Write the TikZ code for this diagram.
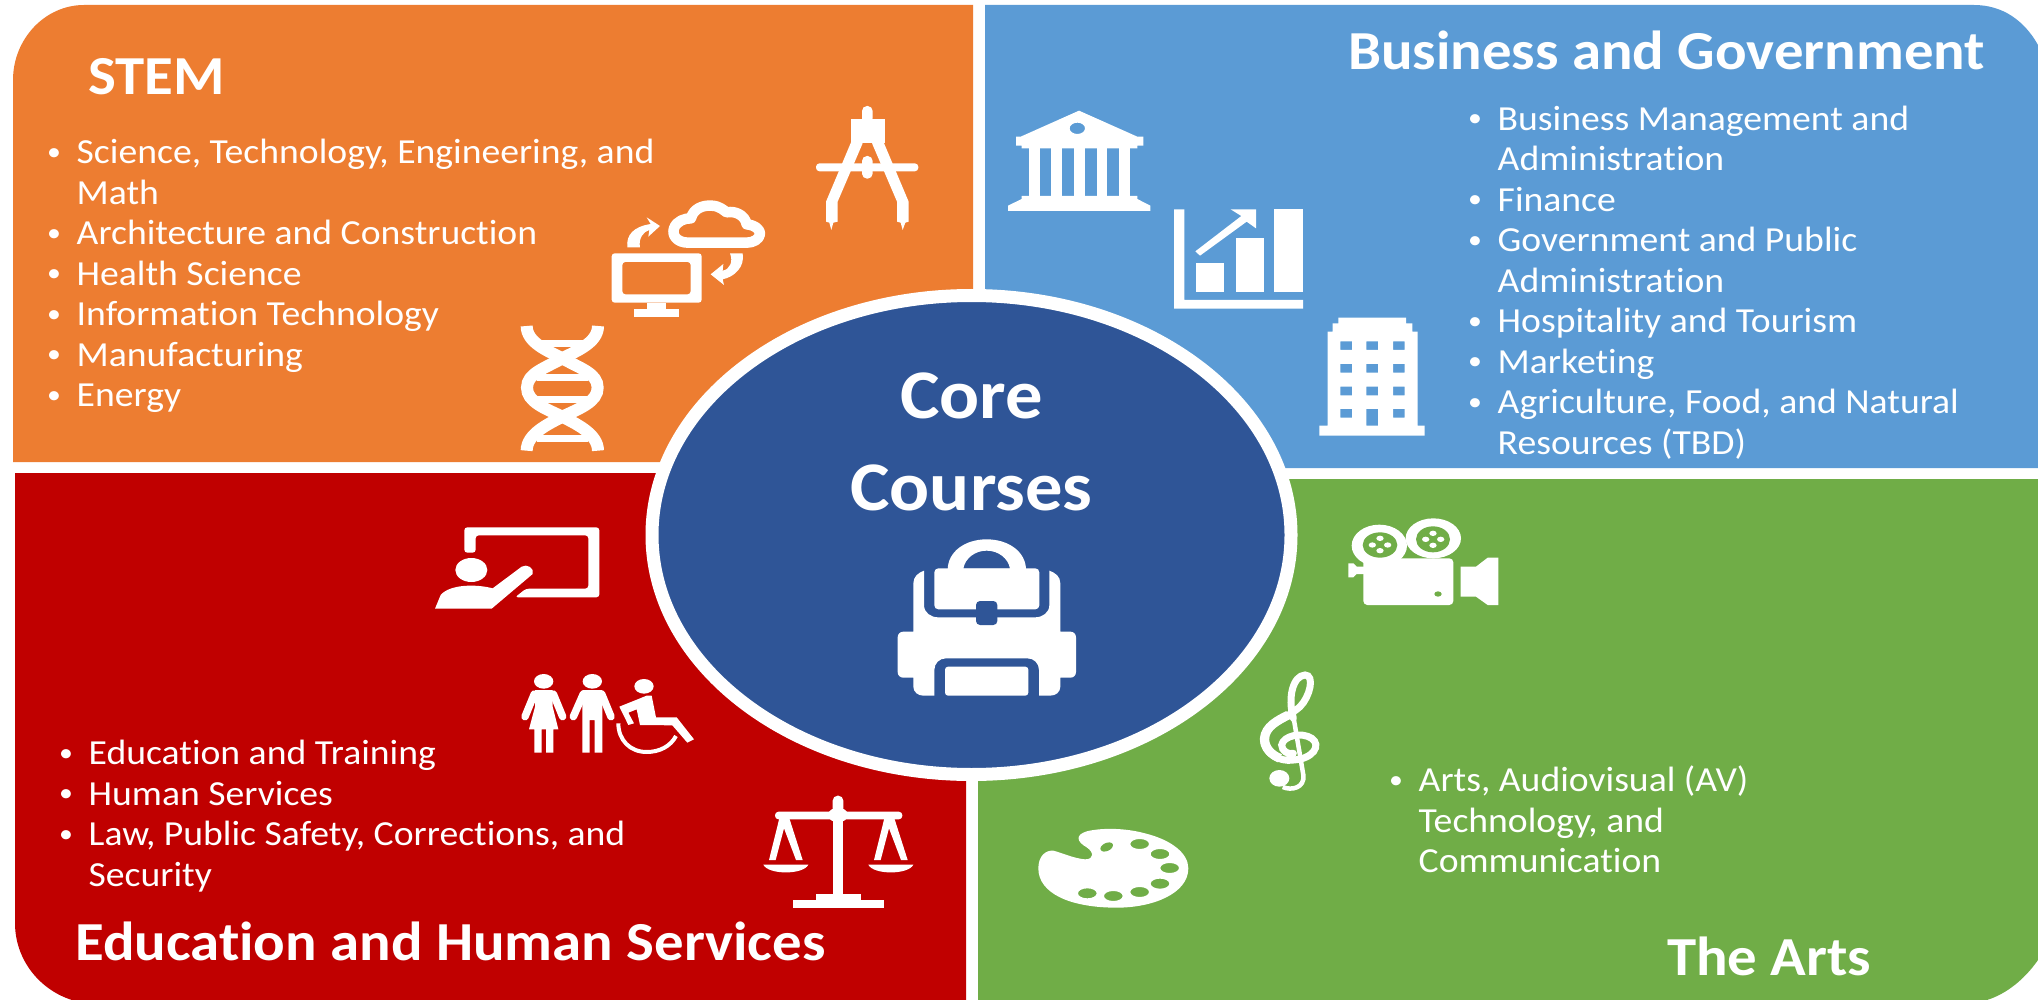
\documentclass[tikz,border=0pt]{standalone}
\usepackage{fontspec}
\setmainfont{Carlito}[FakeStretch=1.07,Ligatures=NoCommon]
\usetikzlibrary{shapes.geometric}
\definecolor{cOrange}{HTML}{ED7D31}
\definecolor{cBlue}{HTML}{5B9BD5}
\definecolor{cRed}{HTML}{C00000}
\definecolor{cGreen}{HTML}{70AD47}
\definecolor{cDark}{HTML}{2F5597}
\tikzset{
  listblock/.style={anchor=base west,inner sep=0pt,text=white,font=\fontsize{35.2}{40.5}\selectfont},
  titletext/.style={anchor=base west,inner sep=0pt,text=white,font=\fontsize{55}{60}\selectfont\bfseries},
  iconfill/.style={fill=white,draw=none},
  iconline/.style={draw=white,fill=none},
}
\newcommand{\bul}{\raisebox{3.5pt}{\fontsize{26}{26}\selectfont\textbullet}}
\begin{document}
\begin{tikzpicture}[x=1pt,y=-1pt]
\useasboundingbox (0,0) rectangle (2038,1000);
\fill[white] (0,0) rectangle (2038,1000);
% panels
\fill[cOrange] (13,462) -- (13,80) .. controls (13,39) and (45,5) .. (84,5) -- (973,5) -- (973,462) -- cycle;
\fill[cBlue] (985,5) -- (1974,5) .. controls (2002,5) and (2024,20) .. (2038,45) -- (2038,468) -- (985,468) -- cycle;
\fill[cRed] (15,473) -- (966,473) -- (966,1000) -- (72,1000) .. controls (40,990) and (15,960) .. (15,923) -- cycle;
\fill[cGreen] (978,479) -- (2038,479) -- (2038,960) .. controls (2024,980) and (2006,994) .. (1987,1000) -- (978,1000) -- cycle;
% centre
\node[ellipse,draw=white,line width=13pt,fill=cDark,minimum width=639pt,minimum height=479pt,inner sep=0pt] (core) at (971.5,535) {};
\node[anchor=base,inner sep=0pt,text=white,font=\fontsize{69.7}{92}\selectfont\bfseries] (coretext) at (971.5,418) {\begin{tabular}[t]{@{}c@{}}Core\\Courses\end{tabular}};
% titles
\node[titletext] (stemtitle) at (88,95) {STEM};
\node[titletext] (bustitle) at (1348,70) {Business and Government};
\node[titletext] (edutitle) at (75,960) {Education and Human Services};
\node[titletext] (artstitle) at (1667,975) {The Arts};
% lists
\node[listblock] (stemlist) at (47,163.7) {\begin{tabular}[t]{@{}p{29.5pt}@{}l@{}}
\bul & Science, Technology, Engineering, and\\
 & Math\\
\bul & Architecture and Construction\\
\bul & Health Science\\
\bul & Information Technology\\
\bul & Manufacturing\\
\bul & Energy
\end{tabular}};
\node[listblock] (buslist) at (1468,130.2) {\begin{tabular}[t]{@{}p{29.5pt}@{}l@{}}
\bul & Business Management and\\
 & Administration\\
\bul & Finance\\
\bul & Government and Public\\
 & Administration\\
\bul & Hospitality and Tourism\\
\bul & Marketing\\
\bul & Agriculture, Food, and Natural\\
 & Resources (TBD)
\end{tabular}};
\node[listblock] (edulist) at (59,764.7) {\begin{tabular}[t]{@{}p{29.5pt}@{}l@{}}
\bul & Education and Training\\
\bul & Human Services\\
\bul & Law, Public Safety, Corrections, and\\
 & Security
\end{tabular}};
\node[listblock] (artslist) at (1389,791.7) {\begin{tabular}[t]{@{}p{29.5pt}@{}l@{}}
\bul & Arts, Audiovisual (AV)\\
 & Technology, and\\
 & Communication
\end{tabular}};
% ---- STEM icons (zoom coords)
\begin{scope}[shift={(500,90)},scale=1/3]
 % compass
 \fill[iconfill,rounded corners=5pt] (1086,100) -- (1086,48) -- (1118,48) -- (1118,100) -- cycle;
 \fill[iconfill] (1052,88) rectangle (1154,160);
 \fill[iconfill] (1056,150) -- (1088,160) -- (1013,335) -- (1013,395) -- (1000,398) -- (994,420) -- (988,398) -- (978,395) -- (978,335) -- cycle;
 \fill[iconfill] (1148,150) -- (1116,160) -- (1191,335) -- (1191,395) -- (1202,398) -- (1208,420) -- (1216,398) -- (1226,395) -- (1226,335) -- cycle;
 \fill[iconfill,rounded corners=3.5pt] (948,220) rectangle (1255,244);
 \fill[iconfill,rounded corners=5pt] (1086,198) rectangle (1118,266);
 % cloud
 \draw[iconline,line width=10.5pt,line join=round] (650,458) -- (565,458) .. controls (530,458) and (515,435) .. (522,415) .. controls (530,392) and (555,385) .. (573,385) .. controls (580,355) and (610,345) .. (635,347) .. controls (660,348) and (672,362) .. (680,367) .. controls (705,362) and (735,375) .. (740,403) .. controls (765,405) and (782,420) .. (780,432) .. controls (778,448) and (760,458) .. (740,458) -- cycle;
 % monitor
 \fill[iconfill,even odd rule,rounded corners=3pt] (335,490) rectangle (605,638) (367,516) rectangle (572,613);
 \fill[iconfill] (440,638) rectangle (498,660);
 \fill[iconfill] (402,656) rectangle (537,682);
 % arrows
 \fill[iconfill] (382,472) .. controls (378,435) and (400,410) .. (452,402) -- (440,382) -- (480,408) -- (445,440) -- (448,420) .. controls (430,425) and (415,445) .. (420,472) -- cycle;
 \fill[iconfill] (728,490) .. controls (735,530) and (705,560) .. (668,568) -- (672,585) -- (632,553) -- (670,522) -- (668,542) .. controls (690,538) and (700,515) .. (690,490) -- cycle;
 % DNA
 \draw[iconline,line width=12pt] (80,708) .. controls (80,760) and (150,785) .. (187,805) .. controls (240,835) and (293,850) .. (293,893) .. controls (293,935) and (240,955) .. (187,980) .. controls (150,1000) and (80,1030) .. (80,1082);
 \draw[iconline,line width=12pt] (294,708) .. controls (294,760) and (224,785) .. (187,805) .. controls (134,835) and (81,850) .. (81,893) .. controls (81,935) and (134,955) .. (187,980) .. controls (224,1000) and (294,1030) .. (294,1082);
 \foreach \yy in {762,862,928,1047}{\draw[iconline,line width=7pt] (110,\yy) -- (264,\yy);}
\end{scope}
% ---- Business icons
\begin{scope}[shift={(1000,110)},scale=1/3]
 % bank
 \fill[iconfill,even odd rule] (237,2) -- (412,80) -- (430,80) -- (430,107) -- (412,107) -- (412,115) -- (65,115) -- (65,107) -- (48,107) -- (48,80) -- (62,80) -- cycle (232,55) ellipse [x radius=23,y radius=17];
 \foreach \xa/\xb in {87/120,153/187,222/255,290/322,357/390}{\fill[iconfill] (\xa,110) rectangle (\xb,262);}
 \fill[iconfill] (65,258) -- (412,258) -- (412,267) -- (451,287) -- (451,303) -- (24,303) -- (24,287) -- (65,267) -- cycle;
 % chart
 \fill[iconfill] (522,298) -- (553,298) -- (553,570) -- (909,570) -- (909,596) -- (522,596) -- cycle;
 \fill[iconfill] (588,460) rectangle (673,545);
 \fill[iconfill] (707,383) rectangle (792,545);
 \fill[iconfill] (823,298) rectangle (909,545);
 \fill[iconfill] (586,424) -- (724,318) -- (692,298) -- (768,298) -- (768,355) -- (740,335) -- (600,437) -- cycle;
 % tower
 \fill[iconfill,even odd rule] (958,977) -- (958,947) -- (983,947) -- (983,665) -- (998,665) -- (998,640) -- (1015,640) -- (1015,623) -- (1218,623) -- (1218,640) -- (1237,640) -- (1237,665) -- (1253,665) -- (1253,947) -- (1274,947) -- (1274,977) -- cycle
  (1021,694) rectangle (1056,720) (1099,694) rectangle (1134,720) (1179,694) rectangle (1214,720)
  (1021,762) rectangle (1056,788) (1099,762) rectangle (1134,788) (1179,762) rectangle (1214,788)
  (1021,830) rectangle (1056,856) (1099,830) rectangle (1134,856) (1179,830) rectangle (1214,856)
  (1021,897) rectangle (1056,923) (1099,897) rectangle (1134,947) (1179,897) rectangle (1214,923);
\end{scope}
% ---- Backpack
\begin{scope}[shift={(850,510)},scale=1/3]
 \fill[iconfill,even odd rule] (293,180) .. controls (293,125) and (345,88) .. (410,88) .. controls (475,88) and (528,125) .. (528,180) -- cycle (340,176) .. controls (345,145) and (375,122) .. (410,122) .. controls (445,122) and (475,145) .. (480,176) -- cycle;
 \fill[iconfill,rounded corners=4pt] (253,175) -- (253,298) -- (568,298) -- (568,175) -- cycle;
 \fill[iconfill] (222,182) .. controls (205,188) and (190,200) .. (190,220) -- (190,365) -- (160,365) .. controls (150,365) and (143,372) .. (143,382) -- (143,486) .. controls (143,496) and (150,503) .. (160,503) -- (190,503) -- (190,530) .. controls (190,546) and (204,557) .. (220,557) -- (253,557) -- (253,480) .. controls (253,460) and (268,445) .. (288,445) -- (532,445) .. controls (552,445) and (567,460) .. (567,480) -- (567,557) -- (600,557) .. controls (618,557) and (631,546) .. (631,530) -- (631,503) -- (661,503) .. controls (671,503) and (678,496) .. (678,486) -- (678,382) .. controls (678,372) and (671,365) .. (661,365) -- (631,365) -- (631,220) .. controls (631,200) and (616,188) .. (598,182) -- (598,285) .. controls (598,308) and (578,322) .. (555,322) -- (265,322) .. controls (242,322) and (222,308) .. (222,285) -- cycle;
 \fill[iconfill,rounded corners=3pt] (285,557) -- (285,470) -- (535,470) -- (535,557) -- cycle;
 \fill[cDark,rounded corners=4pt] (378,273) rectangle (442,345);
\end{scope}
% ---- Education icons
\begin{scope}[shift={(420,510)},scale=1/3]
 % teacher
 \fill[iconfill,rounded corners=3pt] (133,128) -- (133,52) -- (538,52) -- (538,262) -- (285,262) -- (318,236) -- (505,236) -- (505,76) -- (167,76) -- (167,128) -- cycle;
 \fill[iconfill] (154,180) ellipse [x radius=48,y radius=36];
 \fill[iconfill] (45,296) -- (62,255) .. controls (90,222) and (170,222) .. (218,235) -- (305,170) .. controls (320,160) and (345,175) .. (338,192) -- (215,296) -- cycle;
 % woman
 \fill[iconfill] (371,514) ellipse [x radius=29,y radius=22];
 \fill[iconfill] (345,540) -- (398,540) -- (398,590) -- (415,658) -- (400,658) -- (400,728) -- (378,728) -- (378,658) -- (365,658) -- (365,728) -- (343,728) -- (343,658) -- (327,658) -- (345,590) -- cycle;
 \draw[iconline,line width=7.5pt,line cap=round] (343,552) -- (315,620);
 \draw[iconline,line width=7.5pt,line cap=round] (400,552) -- (428,620);
 % man
 \fill[iconfill] (517,514) ellipse [x radius=29,y radius=22];
 \fill[iconfill] (487,540) -- (547,540) -- (547,728) -- (524,728) -- (524,630) -- (509,630) -- (509,728) -- (487,728) -- cycle;
 \draw[iconline,line width=7.5pt,line cap=round] (490,552) -- (460,620);
 \draw[iconline,line width=7.5pt,line cap=round] (545,552) -- (573,620);
 % wheelchair
 \fill[iconfill] (672,529) ellipse [x radius=29,y radius=22];
 \fill[iconfill] (598,590) -- (680,557) -- (695,557) -- (708,622) -- (770,622) -- (822,688) -- (802,698) -- (757,646) -- (660,645) -- (650,598) -- (625,608) -- (642,640) -- (625,645) -- cycle;
 \draw[iconline,line width=4pt] (595,640) .. controls (595,690) and (630,726) .. (680,726) .. controls (720,726) and (752,708) .. (768,678);
\end{scope}
\begin{scope}[shift={(740,780)},scale=1/3]
 % scales
 \fill[iconfill,rounded corners=5pt] (278,100) -- (278,47) -- (310,47) -- (310,100) -- cycle;
 \fill[iconfill,rounded corners=3.5pt] (105,95) rectangle (487,118);
 \fill[iconfill] (278,110) rectangle (310,345);
 \fill[iconfill] (228,342) rectangle (362,362);
 \fill[iconfill] (160,360) rectangle (431,384);
 \fill[iconfill,even odd rule] (294,105) ellipse [x radius=30,y radius=22] (294,105) ellipse [x radius=11,y radius=7];
 \fill[iconfill] (118,115) -- (148,115) -- (188,240) -- (168,240) -- (132,145) -- (107,240) -- (87,240) -- cycle;
 \fill[iconfill] (433,115) -- (463,115) -- (503,240) -- (483,240) -- (447,145) -- (422,240) -- (402,240) -- cycle;
 \fill[iconfill] (70,254) -- (205,254) .. controls (190,285) and (85,285) .. (70,254) -- cycle;
 \fill[iconfill] (385,254) -- (520,254) .. controls (505,285) and (400,285) .. (385,254) -- cycle;
\end{scope}
% ---- Arts icons
\begin{scope}[shift={(1340,510)},scale=1/3]
 \fill[iconfill] (118,107) ellipse [x radius=83,y radius=63];
 \fill[iconfill] (280,85) ellipse [x radius=83,y radius=60];
 \fill[cGreen] (120,105) ellipse [x radius=52,y radius=38];
 \fill[cGreen] (279,88) ellipse [x radius=51,y radius=39];
 \foreach \cx/\cy in {97/105,143/105,120/85,120/122,257/88,302/88,279/70,279/106}{\fill[iconfill] (\cx,\cy) ellipse [x radius=11,y radius=8];}
 \fill[cGreen] (195,145) -- (208,118) -- (225,145) -- cycle;
 \fill[iconfill,rounded corners=4pt] (70,145) rectangle (340,285);
 \fill[iconfill] (25,160) -- (40,160) -- (50,170) -- (75,170) -- (75,192) -- (50,192) -- (40,202) -- (25,202) -- cycle;
 \fill[cGreen] (294,252) ellipse [x radius=11,y radius=8];
 \fill[iconfill] (362,170) -- (408,170) -- (443,143) -- (475,143) -- (475,285) -- (443,285) -- (408,260) -- (362,260) -- cycle;
\end{scope}
\begin{scope}[shift={(1250,665)},scale=1/3]
 % treble clef
 \draw[iconline,line width=7pt,line cap=round] (130,160) .. controls (112,95) and (130,32) .. (165,30) .. controls (195,30) and (180,95) .. (150,125) .. controls (105,165) and (42,180) .. (40,222) .. controls (40,265) and (90,292) .. (130,285) .. controls (190,282) and (215,240) .. (185,220) .. controls (155,200) and (100,212) .. (95,240) .. controls (95,258) and (115,270) .. (130,265);
 \draw[iconline,line width=9pt] (115,150) .. controls (85,165) and (44,185) .. (44,222) .. controls (44,250) and (65,270) .. (90,280);
 \draw[iconline,line width=4.5pt] (126,130) -- (160,330) .. controls (165,368) and (125,378) .. (98,366);
 \fill[iconfill] (88,340) ellipse [x radius=30,y radius=25];
\end{scope}
\begin{scope}[shift={(1020,510)},scale=1/3]
 % palette
 \fill[iconfill,even odd rule] (55,1075) .. controls (55,1040) and (75,1020) .. (100,1022) .. controls (125,1028) and (160,1045) .. (195,1048) .. controls (225,1048) and (220,1025) .. (200,1012) .. controls (170,995) and (165,975) .. (200,964) .. controls (250,952) and (320,955) .. (375,970) .. controls (455,990) and (505,1030) .. (505,1075) .. controls (505,1150) and (400,1193) .. (290,1193) .. controls (150,1193) and (55,1150) .. (55,1075) -- cycle
 (359,1002) ellipse [x radius=28,y radius=15]
 (420,1032) ellipse [x radius=28,y radius=15]
 (449,1074) ellipse [x radius=28,y radius=15]
 (420,1121) ellipse [x radius=28,y radius=15]
 (359,1146) ellipse [x radius=28,y radius=15]
 (280,1158) ellipse [x radius=28,y radius=15]
 (202,1150) ellipse [x radius=28,y radius=15];
 \fill[cGreen,rotate around={25:(260,1011)}] (260,1011) ellipse [x radius=20,y radius=12];
\end{scope}
\end{tikzpicture}
\end{document}
